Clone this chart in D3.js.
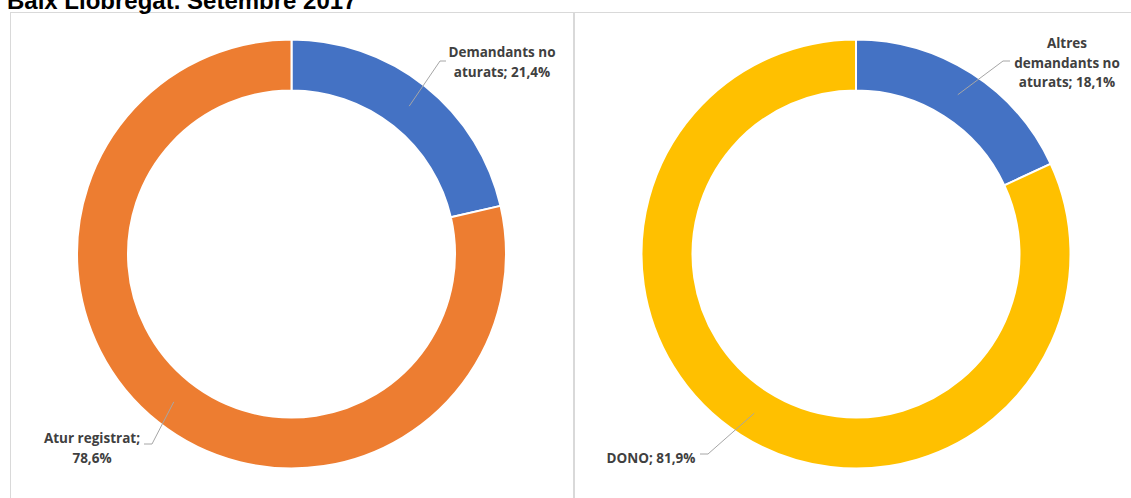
<!DOCTYPE html>
<html>
<head>
<meta charset="utf-8">
<script src="https://cdn.jsdelivr.net/npm/d3@7"></script>
<style>
  html, body { margin: 0; padding: 0; background: #fff; overflow: hidden; }
  svg { display: block; }
</style>
</head>
<body>
<div class="chart"></div>
<script>
;(function(window, document, undefined) {

	'use strict';

	// data
	var title = 'Baix Llobregat. Setembre 2017';

	var leftCategories = ['Demandants no aturats', 'Atur registrat'];
	var leftValues = [21.4, 78.6];
	var leftLabels = [['Demandants no', 'aturats; 21,4%'], ['Atur registrat;', '78,6%']];

	var rightCategories = ['Altres demandants no aturats', 'DONO'];
	var rightValues = [18.1, 81.9];
	var rightLabels = [['Altres', 'demandants no', 'aturats; 18,1%'], ['DONO; 81,9%']];

	var width = 1131, height = 498;

	// layout: centre, radii, label anchor (text centre, first baseline) and elbow offsets
	var charts = [
		{
			cx: 291.5, cy: 254, categories: leftCategories, values: leftValues, labels: leftLabels,
			colors: ['#4472C4', '#ED7D31'],
			place: [
				{ tx: 502, ty: 57, elbow: [440, 61], end: [446, 61] },
				{ tx: 92, ty: 443, elbow: [152, 444], end: [144, 444] }
			]
		},
		{
			cx: 856, cy: 254, categories: rightCategories, values: rightValues, labels: rightLabels,
			colors: ['#4472C4', '#FFC000'],
			place: [
				{ tx: 1067, ty: 48, elbow: [1003, 61], end: [1010, 61] },
				{ tx: 651, ty: 463, elbow: [708, 454], end: [700, 454] }
			]
		}
	];

	function init() {
		var svg = d3.select('.chart')
			.append('svg')
			.attr('width', width)
			.attr('height', height);

		// panel frames
		svg.append('rect')
			.attr('x', 10.5).attr('y', 12.5)
			.attr('width', 563).attr('height', 500)
			.attr('fill', 'none').attr('stroke', '#d9d9d9');
		svg.append('rect')
			.attr('x', 574.5).attr('y', 12.5)
			.attr('width', 570).attr('height', 500)
			.attr('fill', 'none').attr('stroke', '#d9d9d9');

		// title sits partly above the top edge, as in the source picture
		svg.append('text')
			.attr('x', 7).attr('y', 9)
			.attr('font-family', 'Liberation Sans, Arial, sans-serif')
			.attr('font-weight', 'bold')
			.attr('font-size', 24)
			.attr('fill', '#000')
			.text(title);

		charts.forEach(function(c) { render(svg, c); });
	}

	function render(svg, c) {
		var outer = 214.5, inner = 163.5;
		var pie = d3.pie().sort(null).value(function(d) { return d; });
		var arc = d3.arc().innerRadius(inner).outerRadius(outer);
		var mid = d3.arc().innerRadius((inner + outer) / 2).outerRadius((inner + outer) / 2);
		var arcs = pie(c.values);

		var g = svg.append('g').attr('transform', 'translate(' + c.cx + ',' + c.cy + ')');

		g.selectAll('path')
			.data(arcs)
			.enter()
			.append('path')
			.attr('d', arc)
			.attr('fill', function(d, i) { return c.colors[i]; })
			.attr('stroke', '#fff')
			.attr('stroke-width', 2);

		arcs.forEach(function(d, i) {
			var p = mid.centroid(d);
			var pl = c.place[i];
			svg.append('polyline')
				.attr('points', [
					[c.cx + p[0], c.cy + p[1]], pl.elbow, pl.end
				].map(function(q) { return q.join(','); }).join(' '))
				.attr('fill', 'none')
				.attr('stroke', '#a6a6a6')
				.attr('stroke-width', 1);

			var t = svg.append('text')
				.attr('text-anchor', 'middle')
				.attr('font-family', 'Open Sans, sans-serif')
				.attr('font-weight', 'bold')
				.attr('font-size', 13.5)
				.attr('fill', '#404040');
			c.labels[i].forEach(function(line, k) {
				t.append('tspan')
					.attr('x', pl.tx)
					.attr('y', pl.ty + k * 19.5)
					.text(line);
			});
		});
	}

	init();

})(window, document);
</script>
</body>
</html>
